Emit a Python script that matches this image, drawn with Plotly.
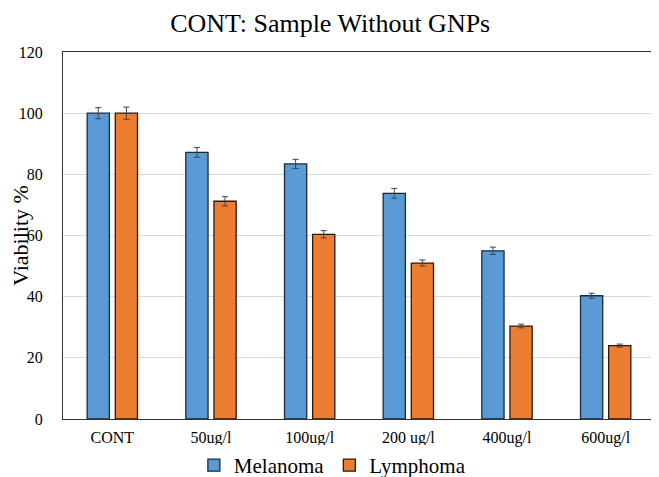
import plotly.graph_objects as go

categories = ["CONT", "50ug/l", "100ug/l", "200 ug/l", "400ug/l", "600ug/l"]
melanoma = [100, 87.2, 83.4, 73.8, 55.0, 40.3]
melanoma_err = [1.8, 1.6, 1.5, 1.6, 1.2, 0.8]
lymphoma = [100, 71.2, 60.4, 51.0, 30.4, 24.0]
lymphoma_err = [2.0, 1.5, 1.2, 1.0, 0.6, 0.5]

font_family = "Liberation Serif"

fig = go.Figure()
fig.add_trace(go.Bar(
    x=categories, y=melanoma, name="Melanoma",
    marker=dict(color="#5b9bd5", line=dict(color="#1a2a3a", width=1.3)),
    error_y=dict(type="data", array=melanoma_err, visible=True, color="#444444", thickness=1, width=3),
))
fig.add_trace(go.Bar(
    x=categories, y=lymphoma, name="Lymphoma",
    marker=dict(color="#ed7d31", line=dict(color="#2a1a10", width=1.3)),
    error_y=dict(type="data", array=lymphoma_err, visible=True, color="#444444", thickness=1, width=3),
))

fig.update_layout(
    width=651, height=469,
    paper_bgcolor="white", plot_bgcolor="white",
    margin=dict(l=55, r=4, t=44, b=58, autoexpand=False),
    barmode="group", bargap=0.43, bargroupgap=0.21,
    title=dict(text="CONT: Sample Without GNPs", x=0.495, xanchor="center", y=0.968, yanchor="middle",
               font=dict(family=font_family, size=26, color="black")),
    font=dict(family=font_family, color="black"),
    legend=dict(orientation="h", x=0.455, xanchor="center", y=-0.071, yanchor="top",
                font=dict(family=font_family, size=21, color="black"),
                itemwidth=30, tracegroupgap=0, traceorder="normal"),
    showlegend=True,
)
fig.update_xaxes(
    showline=True, linecolor="#333333", linewidth=1, mirror=True,
    tickfont=dict(family=font_family, size=16, color="black"),
    ticks="", ticklen=0, automargin=False, ticklabelstandoff=4,
)
fig.update_yaxes(
    range=[0, 120], dtick=20,
    showline=True, linecolor="#333333", linewidth=1, mirror=True,
    showgrid=True, gridcolor="#d9d9d9", gridwidth=1,
    tickfont=dict(family=font_family, size=16, color="black"),
    ticks="", zeroline=False, automargin=False, ticklabelstandoff=16,
    title=dict(text="Viability %", font=dict(family=font_family, size=22, color="black"), standoff=8),
)

fig.write_html("out.html")
